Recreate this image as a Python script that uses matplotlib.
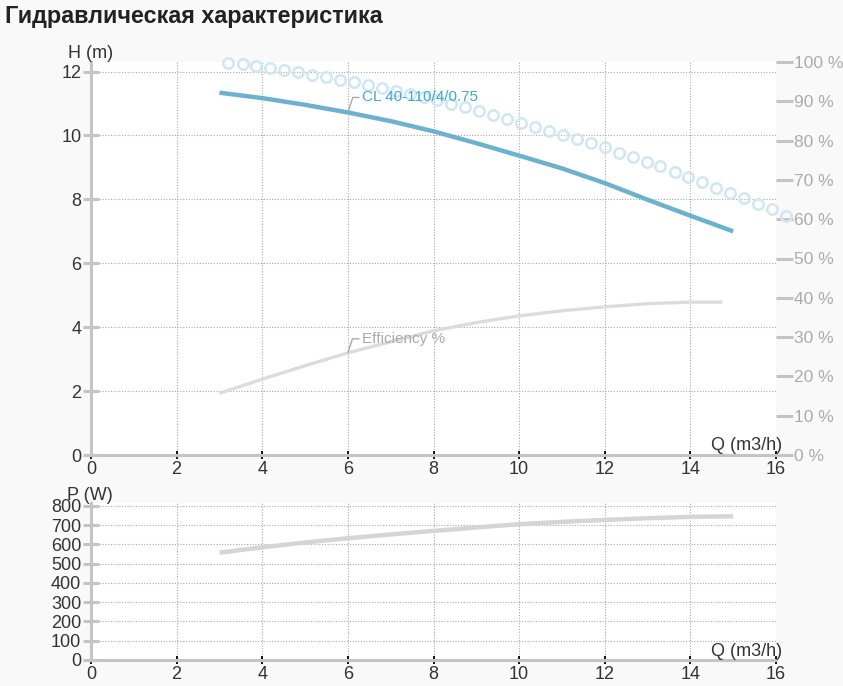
import matplotlib
matplotlib.use("Agg")
import matplotlib.pyplot as plt

plt.rcParams['font.family'] = ['Liberation Sans', 'DejaVu Sans']

# ---- data ----
title = "Гидравлическая характеристика"
head_q = [3, 4, 5, 6, 7, 8, 9, 10, 11, 12, 13, 14, 15]
head_h = [11.34, 11.17, 10.96, 10.72, 10.45, 10.13, 9.76, 9.37, 8.97, 8.51, 7.99, 7.49, 7.00]
eff_q = [3, 4, 5, 6, 7, 8, 9, 10, 11, 12, 13, 14, 14.75]
eff_pct = [15.7, 19.3, 22.7, 26.0, 28.8, 31.6, 33.7, 35.4, 36.7, 37.7, 38.5, 38.9, 38.9]
circ_q = [3.21, 3.54, 3.86, 4.19, 4.51, 4.84, 5.16, 5.49, 5.81, 6.14, 6.47, 6.79, 7.12, 7.44,
          7.77, 8.09, 8.42, 8.74, 9.07, 9.40, 9.72, 10.05, 10.37, 10.70, 11.02, 11.35, 11.67,
          12.00, 12.33, 12.65, 12.98, 13.30, 13.63, 13.95, 14.28, 14.60, 14.93, 15.26, 15.58,
          15.91, 16.23]
circ_pct = [99.8, 99.4, 99.0, 98.5, 98.0, 97.4, 96.8, 96.2, 95.5, 94.8, 94.1, 93.4, 92.7, 91.9,
            91.1, 90.3, 89.4, 88.5, 87.5, 86.5, 85.5, 84.5, 83.5, 82.5, 81.4, 80.4, 79.3,
            78.3, 76.9, 75.9, 74.6, 73.5, 72.1, 70.8, 69.5, 68.0, 66.7, 65.4, 63.9, 62.6, 60.9]
power_q = [3, 4, 5, 6, 7, 8, 9, 10, 11, 12, 13, 14, 15]
power_w = [557, 585, 610, 632, 652, 670, 688, 705, 717, 727, 736, 743, 746]
x_ticks = [0, 2, 4, 6, 8, 10, 12, 14, 16]
h_ticks = [0, 2, 4, 6, 8, 10, 12]
pct_ticks = [0, 10, 20, 30, 40, 50, 60, 70, 80, 90, 100]
pct_labels = [f"{v} %" for v in pct_ticks]
p_ticks = [0, 100, 200, 300, 400, 500, 600, 700, 800]
curve_label = "CL 40-110/4/0.75"
eff_label = "Efficiency %"

W, H = 843, 686
fig = plt.figure(figsize=(W / 100, H / 100), dpi=100, facecolor='#f9f9f9')

AXC = '#c4c4c4'
GRID = dict(color='#a8a8a8', linestyle=(0, (1, 1.5)), linewidth=0.8)
TXT = '#333333'
FS = 13


def style_axis(ax, ymax, yticks):
    ax.set_facecolor('white')
    ax.set_xlim(0, 16)
    ax.set_ylim(0, ymax)
    ax.set_xticks(x_ticks)
    ax.set_yticks(yticks)
    for s in ('top', 'right'):
        ax.spines[s].set_visible(False)
    for s in ('left', 'bottom'):
        ax.spines[s].set_color(AXC)
        ax.spines[s].set_linewidth(2.2)
    ax.tick_params(axis='y', direction='inout', length=12, width=2.2, color=AXC,
                   labelcolor=TXT, labelsize=FS, pad=1)
    ax.tick_params(axis='x', direction='inout', length=6, width=1.3, color='black',
                   labelcolor=TXT, labelsize=FS, pad=1)
    ax.grid(True, **GRID)
    ax.set_axisbelow(True)


# ---- top chart ----
ax1 = fig.add_axes([91 / W, 1 - 455 / H, 685 / W, 393 / H])
style_axis(ax1, 12.3, h_ticks)
ax2 = ax1.twinx()
ax2.set_ylim(0, 100)
for s in ax2.spines.values():
    s.set_visible(False)
ax2.set_yticks(pct_ticks)
ax2.set_yticklabels(pct_labels)
ax2.tick_params(axis='y', direction='out', length=12, width=2.2, color=AXC,
                labelcolor='#ababab', labelsize=12.5, pad=1)

ax2.plot(circ_q, circ_pct, linestyle='none', marker='o', markersize=7.5,
         markerfacecolor='none', markeredgecolor='#cfe7f3', markeredgewidth=1.8,
         clip_on=False, zorder=2)
ax2.plot(eff_q, eff_pct, color='#dcdcdc', linewidth=2.4, solid_capstyle='butt', zorder=3)
ax2.plot(head_q, [h * 100 / 12.3 for h in head_h], color='#6cb1ce', linewidth=3.2,
         solid_capstyle='butt', zorder=4)

ax2.annotate(curve_label, xy=(head_q[3], head_h[3] * 100 / 12.3), xycoords='data',
             xytext=(14, 15), textcoords='offset pixels', ha='left', va='center',
             color='#3ea6d8', fontsize=11,
             arrowprops=dict(arrowstyle='-', color='#aaaaaa', lw=1, shrinkA=0, shrinkB=0,
                             connectionstyle='angle,angleA=0,angleB=72,rad=0'))
ax2.annotate(eff_label, xy=(eff_q[3], eff_pct[3]), xycoords='data',
             xytext=(14, 14), textcoords='offset pixels', ha='left', va='center',
             color='#aaaaaa', fontsize=11,
             arrowprops=dict(arrowstyle='-', color='#aaaaaa', lw=1, shrinkA=0, shrinkB=0,
                             connectionstyle='angle,angleA=0,angleB=72,rad=0'))

fig.text(91 / W, 1 - 54 / H, "H (m)", ha='center', va='center', fontsize=FS, color=TXT)
fig.text(747 / W, 1 - 446 / H, "Q (m3/h)", ha='center', va='center', fontsize=FS, color=TXT)

# ---- bottom chart ----
ax3 = fig.add_axes([91 / W, 1 - 660 / H, 685 / W, 157 / H])
style_axis(ax3, 815, p_ticks)
ax3.plot(power_q, power_w, color='#d5d5d5', linewidth=3.2, solid_capstyle='butt')
fig.text(90 / W, 1 - 496 / H, "P (W)", ha='center', va='center', fontsize=FS, color=TXT)
fig.text(747 / W, 1 - 652 / H, "Q (m3/h)", ha='center', va='center', fontsize=FS, color=TXT)

fig.text(5 / W, 1 - 17 / H, title, ha='left', va='center', fontsize=16.8,
         fontweight='bold', color='#222222')

fig.savefig('out.png', dpi=100, facecolor=fig.get_facecolor())
